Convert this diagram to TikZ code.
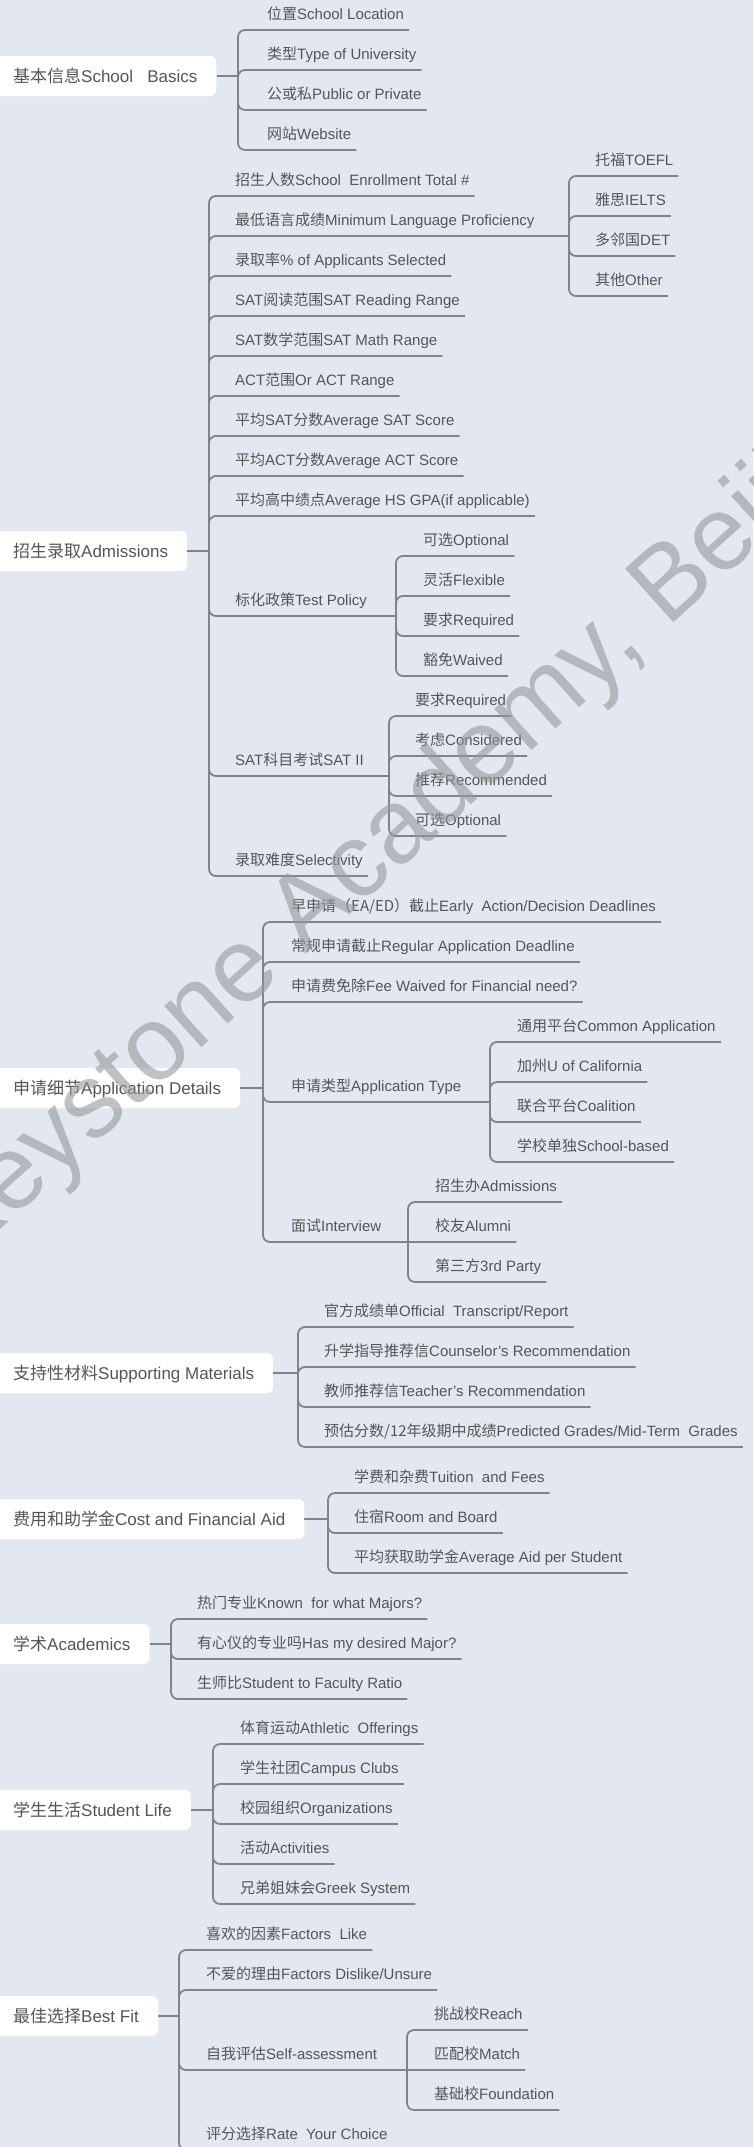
\documentclass[tikz,border=0pt]{standalone}
\usepackage{fontspec}
\setmainfont{Liberation Sans}
\newfontfamily\cjk{Noto Sans CJK SC}
\newcommand{\zh}[1]{{\cjk #1}}
\definecolor{bg}{RGB}{227,232,240}
\definecolor{ink}{RGB}{85,85,85}
\definecolor{wire}{RGB}{128,131,138}
\definecolor{mark}{RGB}{150,152,156}
\tikzset{
  topic/.style={fill=white, rounded corners=6pt, anchor=west, minimum height=40pt, inner xsep=19pt, text height=15pt, text depth=2pt, font=\fontsize{17}{20}\selectfont},
  leaf/.style={anchor=south west, inner sep=0pt, text height=13pt, text depth=10pt, font=\fontsize{15}{18}\selectfont},
  link/.style={draw=wire, line width=1.8pt, rounded corners=7pt},
}

\begin{document}
\begin{tikzpicture}[x=1pt,y=-1pt,text=ink]
        \useasboundingbox (0,0) rectangle (753,2147);
        \fill [bg] (0,0) rectangle (753,2147);
        \clip (0,0) rectangle (753,2147);

        % School Basics
        \node [topic] (bas) at (-6,76) {\zh{基本信息}School\ \ \ Basics};
        \coordinate (bBas) at (238,76);
        \node [leaf] (bas1) at (267,30) {\zh{位置}School Location};
        \node [leaf] (bas2) at (267,70) {\zh{类型}Type of University};
        \node [leaf] (bas3) at (267,110) {\zh{公或私}Public or Private};
        \node [leaf] (bas4) at (267,150) {\zh{网站}Website};
        \draw [link] (bas.east) -- (bBas);
        \draw [link] (bBas) |- ([xshift=5pt]bas1.south east) (bBas) |- ([xshift=5pt]bas2.south east)
                     (bBas) |- ([xshift=5pt]bas3.south east) (bBas) |- ([xshift=5pt]bas4.south east);

        % Admissions
        \node [topic] (adm) at (-6,551) {\zh{招生录取}Admissions};
        \coordinate (bAdm) at (209,551);
        \node [leaf] (adm1) at (235,196) {\zh{招生人数}School\ \ Enrollment Total \#};
        \node [leaf] (adm2) at (235,236) {\zh{最低语言成绩}Minimum Language Proficiency};
        \node [leaf] (adm3) at (235,276) {\zh{录取率}\% of Applicants Selected};
        \node [leaf] (adm4) at (235,316) {SAT\zh{阅读范围}SAT Reading Range};
        \node [leaf] (adm5) at (235,356) {SAT\zh{数学范围}SAT Math Range};
        \node [leaf] (adm6) at (235,396) {ACT\zh{范围}Or ACT Range};
        \node [leaf] (adm7) at (235,436) {\zh{平均}SAT\zh{分数}Average SAT Score};
        \node [leaf] (adm8) at (235,476) {\zh{平均}ACT\zh{分数}Average ACT Score};
        \node [leaf] (adm9) at (235,516) {\zh{平均高中绩点}Average HS GPA(if applicable)};
        \node [leaf] (adm10) at (235,616) {\zh{标化政策}Test Policy};
        \node [leaf] (adm11) at (235,776) {SAT\zh{科目考试}SAT II};
        \node [leaf] (adm12) at (235,876) {\zh{录取难度}Selectivity};
        \draw [link] (adm.east) -- (bAdm);
        \draw [link] (bAdm) |- ([xshift=5pt]adm1.south east) (bAdm) |- ([xshift=5pt]adm3.south east)
                     (bAdm) |- ([xshift=5pt]adm4.south east) (bAdm) |- ([xshift=5pt]adm5.south east)
                     (bAdm) |- ([xshift=5pt]adm6.south east) (bAdm) |- ([xshift=5pt]adm7.south east)
                     (bAdm) |- ([xshift=5pt]adm8.south east) (bAdm) |- ([xshift=5pt]adm9.south east)
                     (bAdm) |- ([xshift=5pt]adm12.south east);

        \coordinate (bLan) at (569,236);
        \node [leaf] (lan1) at (595,176) {\zh{托福}TOEFL};
        \node [leaf] (lan2) at (595,216) {\zh{雅思}IELTS};
        \node [leaf] (lan3) at (595,256) {\zh{多邻国}DET};
        \node [leaf] (lan4) at (595,296) {\zh{其他}Other};
        \draw [link] (bAdm) |- (bLan);
        \draw [link] (bLan) |- ([xshift=5pt]lan1.south east) (bLan) |- ([xshift=5pt]lan2.south east)
                     (bLan) |- ([xshift=5pt]lan3.south east) (bLan) |- ([xshift=5pt]lan4.south east);

        \coordinate (bPol) at (396,616);
        \node [leaf] (pol1) at (423,556) {\zh{可选}Optional};
        \node [leaf] (pol2) at (423,596) {\zh{灵活}Flexible};
        \node [leaf] (pol3) at (423,636) {\zh{要求}Required};
        \node [leaf] (pol4) at (423,676) {\zh{豁免}Waived};
        \draw [link] (bAdm) |- (bPol);
        \draw [link] (bPol) |- ([xshift=5pt]pol1.south east) (bPol) |- ([xshift=5pt]pol2.south east)
                     (bPol) |- ([xshift=5pt]pol3.south east) (bPol) |- ([xshift=5pt]pol4.south east);

        \coordinate (bSat) at (389,776);
        \node [leaf] (sat1) at (415,716) {\zh{要求}Required};
        \node [leaf] (sat2) at (415,756) {\zh{考虑}Considered};
        \node [leaf] (sat3) at (415,796) {\zh{推荐}Recommended};
        \node [leaf] (sat4) at (415,836) {\zh{可选}Optional};
        \draw [link] (bAdm) |- (bSat);
        \draw [link] (bSat) |- ([xshift=5pt]sat1.south east) (bSat) |- ([xshift=5pt]sat2.south east)
                     (bSat) |- ([xshift=5pt]sat3.south east) (bSat) |- ([xshift=5pt]sat4.south east);

        % Application Details
        \node [topic] (app) at (-6,1088) {\zh{申请细节}Application Details};
        \coordinate (bApp) at (263,1088);
        \node [leaf] (app1) at (291,922) {\zh{早申请（EA/ED）截止}Early\ \ Action/Decision Deadlines};
        \node [leaf] (app2) at (291,962) {\zh{常规申请截止}Regular Application Deadline};
        \node [leaf] (app3) at (291,1002) {\zh{申请费免除}Fee Waived for Financial need?};
        \node [leaf] (app4) at (291,1102) {\zh{申请类型}Application Type};
        \node [leaf] (app5) at (291,1242) {\zh{面试}Interview};
        \draw [link] (app.east) -- (bApp);
        \draw [link] (bApp) |- ([xshift=5pt]app1.south east) (bApp) |- ([xshift=5pt]app2.south east)
                     (bApp) |- ([xshift=5pt]app3.south east);

        \coordinate (bTyp) at (490,1102);
        \node [leaf] (typ1) at (517,1042) {\zh{通用平台}Common Application};
        \node [leaf] (typ2) at (517,1082) {\zh{加州}U of California};
        \node [leaf] (typ3) at (517,1122) {\zh{联合平台}Coalition};
        \node [leaf] (typ4) at (517,1162) {\zh{学校单独}School-based};
        \draw [link] (bApp) |- (bTyp);
        \draw [link] (bTyp) |- ([xshift=5pt]typ1.south east) (bTyp) |- ([xshift=5pt]typ2.south east)
                     (bTyp) |- ([xshift=5pt]typ3.south east) (bTyp) |- ([xshift=5pt]typ4.south east);

        \coordinate (bItv) at (408,1242);
        \node [leaf] (itv1) at (435,1202) {\zh{招生办}Admissions};
        \node [leaf] (itv2) at (435,1242) {\zh{校友}Alumni};
        \node [leaf] (itv3) at (435,1282) {\zh{第三方}3rd Party};
        \draw [link] (bApp) |- (bItv);
        \draw [link] (bItv) |- ([xshift=5pt]itv1.south east) (bItv) -- ([xshift=5pt]itv2.south east)
                     (bItv) |- ([xshift=5pt]itv3.south east);

        % Supporting Materials
        \node [topic] (sup) at (-6,1373) {\zh{支持性材料}Supporting Materials};
        \coordinate (bSup) at (298,1373);
        \node [leaf] (sup1) at (324,1327) {\zh{官方成绩单}Official\ \ Transcript/Report};
        \node [leaf] (sup2) at (324,1367) {\zh{升学指导推荐信}Counselor's Recommendation};
        \node [leaf] (sup3) at (324,1407) {\zh{教师推荐信}Teacher's Recommendation};
        \node [leaf] (sup4) at (324,1447) {\zh{预估分数/12年级期中成绩}Predicted Grades/Mid-Term\ \ Grades};
        \draw [link] (sup.east) -- (bSup);
        \draw [link] (bSup) |- ([xshift=5pt]sup1.south east) (bSup) |- ([xshift=5pt]sup2.south east)
                     (bSup) |- ([xshift=5pt]sup3.south east) (bSup) |- ([xshift=5pt]sup4.south east);

        % Cost and Financial Aid
        \node [topic] (cst) at (-6,1519) {\zh{费用和助学金}Cost and Financial Aid};
        \coordinate (bCst) at (328,1519);
        \node [leaf] (cst1) at (354,1493) {\zh{学费和杂费}Tuition\ \ and Fees};
        \node [leaf] (cst2) at (354,1533) {\zh{住宿}Room and Board};
        \node [leaf] (cst3) at (354,1573) {\zh{平均获取助学金}Average Aid per Student};
        \draw [link] (cst.east) -- (bCst);
        \draw [link] (bCst) |- ([xshift=5pt]cst1.south east) (bCst) |- ([xshift=5pt]cst2.south east)
                     (bCst) |- ([xshift=5pt]cst3.south east);

        % Academics
        \node [topic] (aca) at (-6,1644) {\zh{学术}Academics};
        \coordinate (bAca) at (171,1644);
        \node [leaf] (aca1) at (197,1619) {\zh{热门专业}Known\ \ for what Majors?};
        \node [leaf] (aca2) at (197,1659) {\zh{有心仪的专业吗}Has my desired Major?};
        \node [leaf] (aca3) at (197,1699) {\zh{生师比}Student to Faculty Ratio};
        \draw [link] (aca.east) -- (bAca);
        \draw [link] (bAca) |- ([xshift=5pt]aca1.south east) (bAca) |- ([xshift=5pt]aca2.south east)
                     (bAca) |- ([xshift=5pt]aca3.south east);

        % Student Life
        \node [topic] (life) at (-6,1810) {\zh{学生生活}Student Life};
        \coordinate (bLife) at (213,1810);
        \node [leaf] (life1) at (240,1744) {\zh{体育运动}Athletic\ \ Offerings};
        \node [leaf] (life2) at (240,1784) {\zh{学生社团}Campus Clubs};
        \node [leaf] (life3) at (240,1824) {\zh{校园组织}Organizations};
        \node [leaf] (life4) at (240,1864) {\zh{活动}Activities};
        \node [leaf] (life5) at (240,1904) {\zh{兄弟姐妹会}Greek System};
        \draw [link] (life.east) -- (bLife);
        \draw [link] (bLife) |- ([xshift=5pt]life1.south east) (bLife) |- ([xshift=5pt]life2.south east)
                     (bLife) |- ([xshift=5pt]life3.south east) (bLife) |- ([xshift=5pt]life4.south east)
                     (bLife) |- ([xshift=5pt]life5.south east);

        % Best Fit
        \node [topic] (fit) at (-6,2016) {\zh{最佳选择}Best Fit};
        \coordinate (bFit) at (179,2016);
        \node [leaf] (fit1) at (206,1950) {\zh{喜欢的因素}Factors\ \ Like};
        \node [leaf] (fit2) at (206,1990) {\zh{不爱的理由}Factors Dislike/Unsure};
        \node [leaf] (fit3) at (206,2070) {\zh{自我评估}Self-assessment};
        \node [leaf] (fit4) at (206,2150) {\zh{评分选择}Rate\ \ Your Choice};
        \draw [link] (fit.east) -- (bFit);
        \draw [link] (bFit) |- ([xshift=5pt]fit1.south east) (bFit) |- ([xshift=5pt]fit2.south east)
                     (bFit) |- ([xshift=5pt]fit4.south east);

        \coordinate (bSlf) at (407,2070);
        \node [leaf] (slf1) at (434,2030) {\zh{挑战校}Reach};
        \node [leaf] (slf2) at (434,2070) {\zh{匹配校}Match};
        \node [leaf] (slf3) at (434,2110) {\zh{基础校}Foundation};
        \draw [link] (bFit) |- (bSlf);
        \draw [link] (bSlf) |- ([xshift=5pt]slf1.south east) (bSlf) -- ([xshift=5pt]slf2.south east)
                     (bSlf) |- ([xshift=5pt]slf3.south east);

        % watermark
        \node [rotate=42, text=mark, opacity=0.6, font=\fontsize{105}{105}\selectfont] (wm) at (412,822) {Keystone Academy, Beijing};
    \end{tikzpicture}
\end{document}
